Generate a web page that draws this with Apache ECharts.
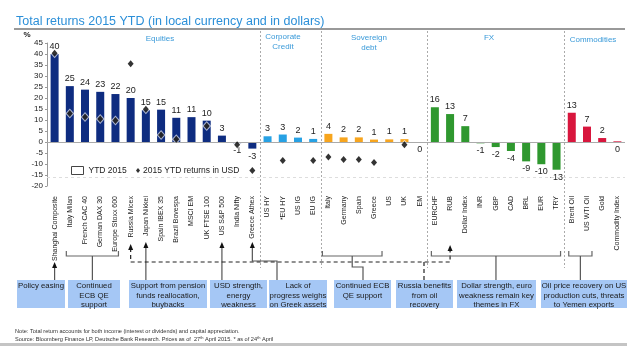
<!DOCTYPE html>
<html>
<head>
<meta charset="utf-8">
<script src="https://cdn.jsdelivr.net/npm/echarts@6/dist/echarts.min.js"></script>
<style>
  html, body { margin: 0; padding: 0; background: #fff; }
  #chart { width: 640px; height: 351px; }
</style>
</head>
<body>
<div id="chart"></div>
<script>
// Categories, grouped by asset class
const categories = [
    'Shanghai Composite', 'Italy Milan', 'French CAC 40', 'German DAX 30', 'Europe Stoxx 600',
    'Russia Micex', 'Japan Nikkei', 'Spain IBEX 35', 'Brazil Bovespa', 'MSCI EM', 'UK FTSE 100',
    'US S&P 500', 'India Nifty', 'Greece Athex',
    'US HY', '*EU HY', 'US IG', 'EU IG',
    'Italy', 'Germany', 'Spain', 'Greece', 'US', 'UK', 'EM',
    'EURCHF', 'RUB', 'Dollar Index', 'INR', 'GBP', 'CAD', 'BRL', 'EUR', 'TRY',
    'Brent Oil', 'US WTI Oil', 'Gold', 'Commodity Index'
];
const groupNames = ['Equities', 'Corporate Credit', 'Sovereign debt', 'FX', 'Commodities'];
const groupSizes = [14, 4, 7, 9, 4];
const groupColors = ['#0e2c80', '#27a1e4', '#f7a51e', '#2f982f', '#d8163d'];

// YTD 2015 returns in local currency (%)
const ytdLocal = [
    40, 25.4, 23.8, 22.8, 21.8, 20, 14.5, 14.7, 11, 11.3, 9.7, 2.9, -0.6, -3,
    2.6, 3.4, 2.0, 1.4,
    3.7, 2.1, 2.1, 1.1, 1.2, 1.3, 0,
    15.8, 12.7, 7.2, -0.6, -2.3, -4.1, -8.8, -10.1, -12.6,
    13.3, 7.0, 1.8, 0.3
];
// 2015 YTD returns in USD (%)
const ytdUsd = [
    40.3, 13, 11.4, 10.5, 9.8, 35.6, 14.9, 3.2, 1.2, null, 7.3, null, -1.2, -12.9,
    null, -8.4, null, -8.4,
    -6.8, -8, -8, -9.3, null, -1.2, null,
    null, null, null, null, null, null, null, null, null,
    null, null, null, null
];
const yTicks = { min: -20, max: 45, interval: 5 };

const FONT = "'Liberation Sans', Arial, sans-serif";

// group index per category
const groupIdx = [];
groupSizes.forEach((n, g) => { for (let i = 0; i < n; i++) groupIdx.push(g); });

const chart = echarts.init(document.getElementById('chart'));

chart.setOption({
    animation: false,
    textStyle: { fontFamily: FONT },
    title: {
        text: 'Total returns 2015 YTD (in local currency and in dollars)',
        left: 11, top: 10,
        textStyle: { fontSize: 12.5, fontWeight: 'normal', color: '#2b8fd8', fontFamily: FONT }
    },
    legend: [
        {
            data: [{ name: 'YTD 2015', icon: 'rect', itemStyle: { color: '#fff', borderColor: '#444', borderWidth: 1 } }],
            left: 66, top: 161, itemWidth: 12, itemHeight: 8, itemGap: 5,
            textStyle: { fontSize: 8.5, color: '#222', fontFamily: FONT }
        },
        {
            data: [{ name: '2015 YTD returns in USD', icon: 'diamond', itemStyle: { color: '#000', borderWidth: 0 } }],
            left: 131, top: 161, itemWidth: 4, itemHeight: 5, itemGap: 2,
            textStyle: { fontSize: 8.5, color: '#222', fontFamily: FONT, padding: [0, 0, 0, -2] }
        }
    ],
    grid: { left: 47, right: 15, top: 43, bottom: 165 },
    xAxis: {
        type: 'category',
        data: categories,
        axisLine: { show: false, onZero: false },
        axisTick: { show: false },
        axisLabel: { rotate: 90, fontSize: 7, color: '#222', margin: 10, interval: 0, fontFamily: FONT }
    },
    yAxis: {
        type: 'value',
        min: yTicks.min, max: yTicks.max, interval: yTicks.interval,
        axisLine: { show: true, lineStyle: { color: '#999' } },
        axisTick: { show: true, length: 2, lineStyle: { color: '#999' } },
        axisLabel: { fontSize: 8, color: '#222', margin: 4, fontFamily: FONT },
        splitLine: { show: false }
    },
    series: [
        {
            name: 'YTD 2015',
            type: 'bar',
            barWidth: 8,
            data: ytdLocal.map((v, i) => ({
                value: v,
                itemStyle: { color: groupColors[groupIdx[i]] },
                label: { position: Math.round(v) > 0 ? 'top' : 'bottom' }
            })),
            label: {
                show: true, fontSize: 9, color: '#222', distance: 3, fontFamily: FONT,
                formatter: p => String(Math.round(p.value))
            },
            markLine: {
                silent: true, symbol: 'none', label: { show: false },
                data: [
                    { yAxis: 0, lineStyle: { color: '#aaa', type: 'solid', width: 1 } },
                    { yAxis: -16, lineStyle: { color: '#ddd', type: [3, 3], width: 1 } }
                ]
            }
        },
        {
            // white halo behind the USD markers
            name: 'halo',
            type: 'scatter',
            symbol: 'diamond',
            symbolSize: [9, 10],
            z: 4,
            silent: true,
            itemStyle: { color: 'rgba(255,255,255,0.8)' },
            data: ytdUsd
        },
        {
            name: '2015 YTD returns in USD',
            type: 'scatter',
            symbol: 'diamond',
            symbolSize: [6, 7],
            z: 5,
            itemStyle: { color: '#000' },
            data: ytdUsd
        }
    ]
});

// ---- annotations (dividers, group headers, brackets, arrows, notes) ----
const cx = i => chart.convertToPixel({ xAxisIndex: 0 }, categories[i]);
const g = [];
const LINE = '#555';

function line(points, dashed, color) {
    g.push({
        type: 'polyline', silent: true,
        shape: { points: points },
        style: { stroke: color || LINE, lineWidth: 1.2, fill: null, lineDash: dashed ? [4, 3] : null }
    });
}
function arrowHead(x, y) {
    g.push({
        type: 'polygon', silent: true,
        shape: { points: [[x, y], [x - 2.5, y + 6], [x + 2.5, y + 6]] },
        style: { fill: '#111' }
    });
}
function bracket(i1, i2, padL, padR) {
    const x1 = cx(i1) - padL, x2 = cx(i2) + padR;
    line([[x1, 251], [x1, 256], [x2, 256], [x2, 251]], false, '#666');
    return (x1 + x2) / 2;
}
function text(str, x, y, opts) {
    g.push({
        type: 'text', silent: true, x: x, y: y,
        style: Object.assign({ text: str, fontSize: 8, fill: '#3a9ad9', fontFamily: FONT, align: 'center', verticalAlign: 'middle' }, opts || {})
    });
}

// title underline
g.push({ type: 'line', silent: true, shape: { x1: 14, y1: 29, x2: 625, y2: 29 }, style: { stroke: '#999', lineWidth: 2 } });

// group dividers
let acc = 0;
groupSizes.slice(0, -1).forEach(n => {
    acc += n;
    const x = Math.round((cx(acc - 1) + cx(acc)) / 2) + 0.5;
    g.push({ type: 'line', silent: true, shape: { x1: x, y1: 31, x2: x, y2: 268 }, style: { stroke: '#aaa', lineWidth: 1, lineDash: [2, 2] } });
});

// group headers
text(groupNames[0], 160, 39);
text('Corporate\nCredit', 283, 42, { lineHeight: 9.5 });
text('Sovereign\ndebt', 369, 43, { lineHeight: 9.5 });
text(groupNames[3], 489, 38);
text(groupNames[4], 593, 40);
text('%', 27, 35, { fill: '#222', fontSize: 8, fontWeight: 'bold' });

// Shanghai: policy easing
line([[cx(0), 280], [cx(0), 266]]);
arrowHead(cx(0), 262);
// European equities bracket
const cEq = bracket(1, 4, 3.5, 3);
line([[cEq, 256], [cEq, 280]]);
// Japan, US arrows
line([[cx(6), 280], [cx(6), 246]]); arrowHead(cx(6), 242);
line([[cx(11), 280], [cx(11), 246]]); arrowHead(cx(11), 242);
// Greece equities
line([[cx(13), 246], [cx(13), 261], [277, 261], [277, 280]]); arrowHead(cx(13), 242);
// Russia dashed (Micex and RUB)
line([[cx(5), 248], [cx(5), 262], [cx(26), 262], [cx(26), 249]], true, '#222');
arrowHead(cx(5), 244); arrowHead(cx(26), 245);
line([[424, 262], [424, 280]], true, '#222');
// Sovereign bracket
const cSov = bracket(18, 21, 6, 8);
line([[cSov, 256], [cSov, 267], [363, 267], [363, 280]]);
// FX bracket
const cFx = bracket(25, 33, 3.5, 4);
line([[cFx, 256], [cFx, 280]]);
// Commodities bracket
const cCom = bracket(34, 35, 3, 5);
line([[cCom, 256], [cCom, 280]]);

// comment boxes
const boxes = [
    [17, 65, 'Policy easing'],
    [68, 120, 'Continued\nECB QE\nsupport'],
    [129, 207, 'Support from pension\nfunds reallocation,\nbuybacks'],
    [210, 267, 'USD strength,\nenergy\nweakness'],
    [269, 327, 'Lack of\nprogress weighs\non Greek assets'],
    [334, 391, 'Continued ECB\nQE support'],
    [396, 453, 'Russia benefits\nfrom oil\nrecovery'],
    [457, 536, 'Dollar strength, euro\nweakness remain key\nthemes in FX'],
    [541, 627, 'Oil price recovery on US\nproduction cuts, threats\nto Yemen exports']
];
boxes.forEach(([x1, x2, t]) => {
    g.push({ type: 'rect', silent: true, shape: { x: x1, y: 280, width: x2 - x1, height: 28 }, style: { fill: '#a5c7f5' } });
    text(t, (x1 + x2) / 2, 281, { fill: '#1a1a1a', fontSize: 7.8, verticalAlign: 'top', lineHeight: 9.6 });
});

// footnotes
text('Note: Total return accounts for both income (interest or dividends) and capital appreciation.', 15, 331,
    { fill: '#333', fontSize: 5.6, align: 'left' });
g.push({
    type: 'text', silent: true, x: 15, y: 339,
    style: {
        text: '{n|Source: Bloomberg Finance LP, Deutsche Bank Research. Prices as of  27}{s|th}{n| April 2015. * as of 24}{s|th}{n| April}',
        fontFamily: FONT, align: 'left', verticalAlign: 'middle',
        rich: { n: { fontSize: 5.6, fill: '#333', fontFamily: FONT }, s: { fontSize: 4, fill: '#333', verticalAlign: 'top', fontFamily: FONT } }
    }
});
g.push({ type: 'rect', silent: true, shape: { x: 0, y: 343, width: 627, height: 3 }, style: { fill: '#c4c4c4' } });

chart.setOption({ graphic: g });
</script>
</body>
</html>
